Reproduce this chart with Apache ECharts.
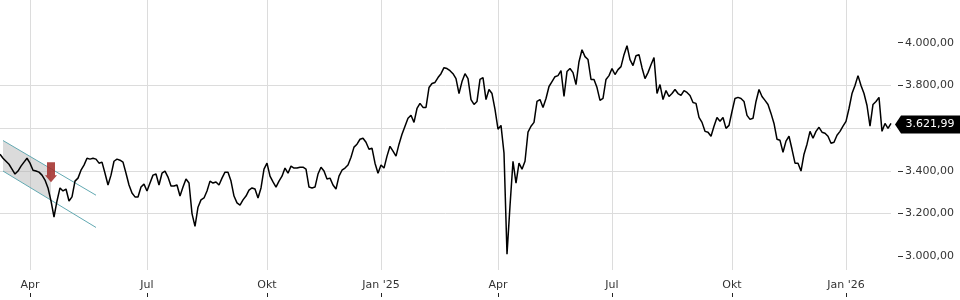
<!DOCTYPE html>
<html><head><meta charset="utf-8">
<script src="https://cdn.jsdelivr.net/npm/echarts@6/dist/echarts.min.js"></script>
<style>html,body{margin:0;padding:0;background:#fff}#c{width:960px;height:300px}</style>
</head><body><div id="c"></div>
<script>
// Price trace, sampled evenly along the time axis (Mar 2024 - Feb 2026)
const price = [
3478,3459,3445,3431,3408,3385,3399,3422,3441,3459,3436,3403,3399,3394,3380,3357,3320,3259,3184,3259,3320,3306,3315,3259,3278,3352,3366,3403,3427,3459,3455,3459,3455,3436,3441,3389,3334,3380,3445,3455,3450,3441,3389,3334,3296,3278,3278,3324,3338,3306,3343,3380,3385,3334,
3389,3399,3371,3329,3329,3334,3282,3324,3362,3343,3200,3140,3230,3264,3273,3306,3352,3343,3348,3334,3366,3394,3394,3352,3282,3250,3240,3264,3282,3310,3320,3315,3273,3320,3408,3436,3375,3348,3324,3352,3375,3413,3389,3422,3413,3413,3417,3417,3408,3324,3320,3324,3385,
3417,3399,3362,3366,3334,3315,3375,3403,3413,3427,3464,3511,3525,3548,3553,3534,3501,3506,3436,3389,3427,3413,3469,3515,3492,3469,3525,3571,3609,3646,3660,3627,3692,3716,3697,3697,3790,3809,3814,3837,3855,3883,3879,3869,3855,3832,3762,3818,3855,3832,3734,3711,3725,3828,
3837,3734,3781,3762,3688,3595,3613,3483,3010,3236,3445,3343,3436,3408,3445,3581,3609,3627,3725,3734,3697,3739,3795,3818,3841,3846,3869,3748,3865,3879,3860,3804,3911,3967,3935,3921,3828,3828,3790,3730,3739,3828,3846,3879,3851,3874,3888,3944,3986,3921,3893,3939,3944,
3883,3832,3860,3897,3930,3762,3804,3734,3776,3748,3762,3781,3762,3753,3776,3767,3753,3720,3716,3650,3627,3585,3581,3562,3609,3650,3632,3650,3599,3613,3678,3739,3744,3739,3725,3660,3641,3646,3725,3781,3748,3730,3711,3669,3622,3548,3543,3487,3539,3562,3501,3436,3436,
3399,3478,3525,3585,3553,3585,3604,3581,3576,3562,3529,3534,3567,3585,3609,3632,3692,3762,3800,3846,3800,3762,3706,3609,3711,3725,3744,3585,3622,3599,3621.99
];
// Quarter tick labels and the sample index at which each quarter starts
const tickLabels = ['Apr','Jul','Okt',"Jan '25",'Apr','Jul','Okt',"Jan '26"];
const tickAt = [10,49,89,127,166,204,244,282];
// Y-axis levels
const yLevels = [3000,3200,3400,3600,3800,4000];
// Trend channel (sample index, value)
const channelUpper = [[1,3542],[32,3286]];
const channelLower = [[1,3399],[32,3135]];
const channelFill = [[1,3542],[17,3410],[17,3263],[1,3399]];
// Sell signal arrow (sample index, value)
const signal = [[17,3393]];

const cats = price.map((_, i) => String(i));
const tickSet = new Set(tickAt);
const tickIdxLabel = {}; tickAt.forEach((t, k) => tickIdxLabel[t] = tickLabels[k]);
function fmtDE(v){
  const s = Number(v).toFixed(2).split('.');
  return s[0].replace(/\B(?=(\d{3})+(?!\d))/g, '.') + ',' + s[1];
}
const lastIdx = price.length - 1;
const FONT = 'DejaVu Sans';

const chart = echarts.init(document.getElementById('c'), null, {renderer:'canvas'});
chart.setOption({
  animation: false,
  backgroundColor: '#fff',
  grid: [
    {left: 0, right: 69, top: -2, bottom: 1},
    {left: 0, right: 69, top: 0, bottom: 30}
  ],
  xAxis: [
    {gridIndex: 0, type: 'category', data: cats, boundaryGap: false, position: 'bottom',
     axisLine: {show: false}, axisTick: {show: false}, axisLabel: {show: false}, splitLine: {show: false}},
    {gridIndex: 1, type: 'category', data: cats, boundaryGap: false, position: 'bottom',
     axisLine: {show: false}, axisTick: {show: false},
     axisLabel: {show: true, interval: (i) => tickSet.has(i), formatter: (v, i) => tickIdxLabel[i] || '',
                 color: '#333', fontFamily: FONT, fontSize: 11, margin: 10},
     splitLine: {show: true, interval: (i) => tickSet.has(i), lineStyle: {color: '#dcdcdc', width: 1}}},
    {gridIndex: 1, type: 'category', data: cats, boundaryGap: false, position: 'bottom', offset: 27,
     axisLine: {show: false},
     axisTick: {show: true, inside: true, length: 4, interval: (i) => tickSet.has(i), lineStyle: {color: '#222', width: 1}},
     axisLabel: {show: false}, splitLine: {show: false}}
  ],
  yAxis: [
    {gridIndex: 0, type: 'value', position: 'right', min: 2800, max: 4200, interval: 200, offset: 7,
     axisLine: {show: false},
     axisTick: {show: true, length: 5, lineStyle: {color: '#333'}, customValues: yLevels},
     axisLabel: {color: '#333', fontFamily: FONT, fontSize: 11, margin: 7, customValues: yLevels,
                 formatter: (v) => (yLevels.indexOf(v) >= 0 ? fmtDE(v) : '')},
     splitLine: {show: true, showMinLine: false, showMaxLine: false, lineStyle: {color: '#dcdcdc', width: 1}}},
    {gridIndex: 1, type: 'value', show: false}
  ],
  series: [
    {type: 'custom', xAxisIndex: 0, yAxisIndex: 0, silent: true, z: 1, data: [0],
     renderItem: (params, api) => ({
       type: 'polygon',
       shape: {points: channelFill.map(p => api.coord(p))},
       style: {fill: 'rgba(175,175,175,0.45)'}
     })},
    {type: 'line', xAxisIndex: 0, yAxisIndex: 0, data: channelUpper, showSymbol: false, silent: true, z: 2,
     lineStyle: {color: '#62a9b2', width: 1}},
    {type: 'line', xAxisIndex: 0, yAxisIndex: 0, data: channelLower, showSymbol: false, silent: true, z: 2,
     lineStyle: {color: '#62a9b2', width: 1}},
    {type: 'line', xAxisIndex: 0, yAxisIndex: 0, data: price, showSymbol: false, z: 3,
     lineStyle: {color: '#000', width: 1.5},
     markPoint: {
       symbol: 'path://M0,9 L6,0 L70,0 L70,18 L6,18 Z', symbolSize: [70, 18], symbolOffset: [39, 1],
       itemStyle: {color: '#000'},
       label: {show: true, color: '#fff', fontFamily: FONT, fontSize: 11, formatter: (p) => fmtDE(p.value), offset: [0, 0]},
       data: [{coord: [lastIdx, price[lastIdx]], value: price[lastIdx]}]
     }},
    {type: 'scatter', xAxisIndex: 0, yAxisIndex: 0, data: signal, silent: true, z: 4,
     symbol: 'path://M2,0 L10,0 L10,13 L12,13 L6,20 L0,13 L2,13 Z', symbolSize: [12, 20],
     itemStyle: {color: '#a3302c', opacity: 0.88}}
  ]
});
</script></body></html>
